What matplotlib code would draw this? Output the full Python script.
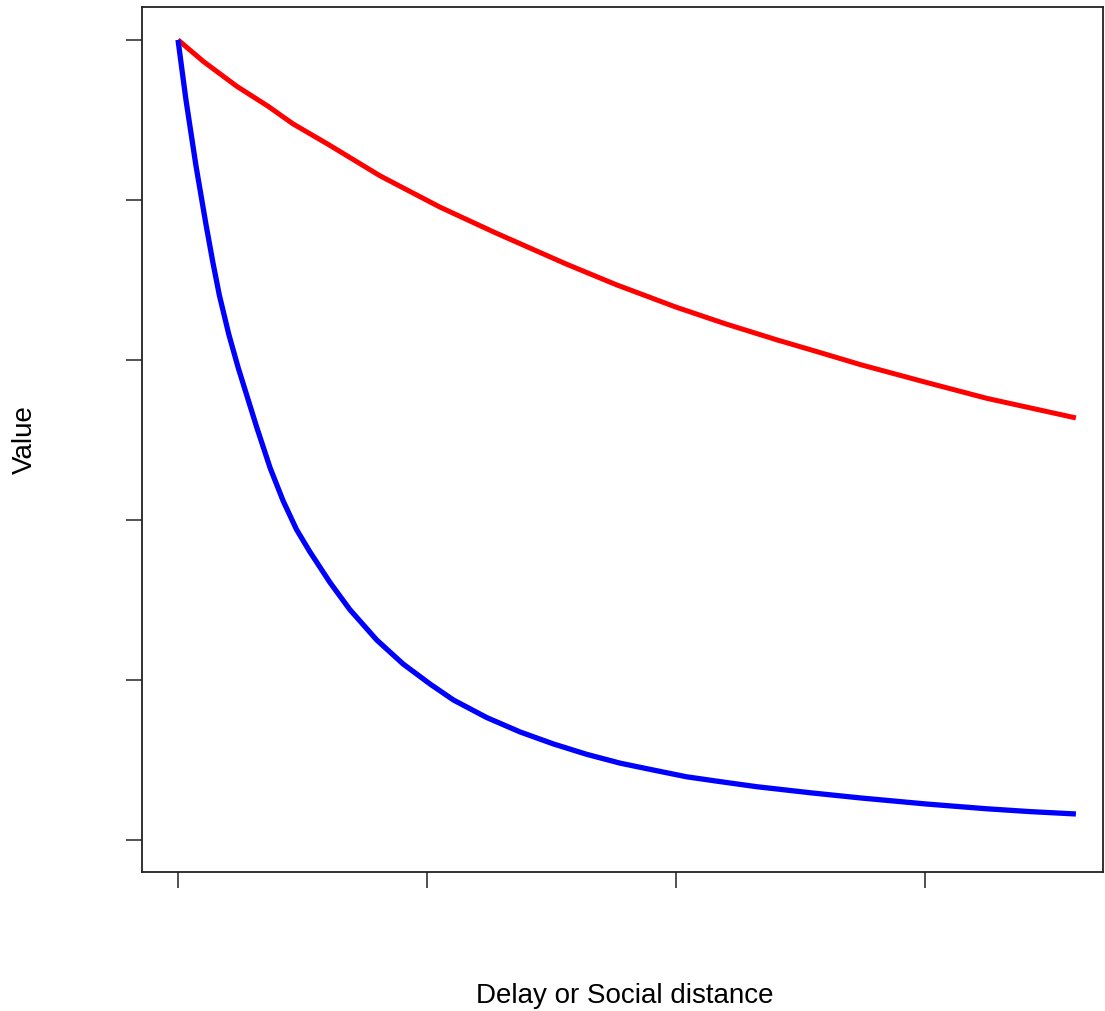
import matplotlib
matplotlib.use("Agg")
import matplotlib.pyplot as plt

# values (x = delay, y = discounted value)
red_x = [0, 5.1, 11.8, 18.1, 23.1, 30.0, 40.6, 52.6, 63.7, 77.9, 88.0, 100, 110.0,
         120.3, 128.5, 137.1, 150.2, 162.4, 180.3]
red_y = [1.0, 0.973, 0.942, 0.917, 0.895, 0.870, 0.830, 0.791, 0.759, 0.720, 0.694, 0.666, 0.645,
         0.625, 0.610, 0.594, 0.572, 0.552, 0.5275]

blue_x = [0, 1.6, 3.6, 5.6, 7.0, 8.3, 10.2, 12.1, 13.8, 15.8, 18.5, 21.1, 23.8, 26.5, 30.5, 34.5,
          39.9, 45.2, 50.6, 55.3, 62.0, 68.7, 75.4, 82.1, 88.8, 95.4, 102.1, 108.8, 116.2,
          127.0, 137.1, 150.2, 162.4, 171.0, 180.3]
blue_y = [1.0, 0.925, 0.843, 0.770, 0.722, 0.681, 0.632, 0.590, 0.556, 0.516, 0.465, 0.424, 0.388,
          0.360, 0.322, 0.288, 0.250, 0.220, 0.195, 0.175, 0.153, 0.135, 0.120, 0.107, 0.096,
          0.0875, 0.079, 0.073, 0.0666, 0.059, 0.0525, 0.045, 0.039, 0.0355, 0.0325]

x_ticks = [0, 50, 100, 150]
y_ticks = [0, 0.2, 0.4, 0.6, 0.8, 1.0]

plt.rcParams['font.family'] = ['Liberation Sans', 'DejaVu Sans']

fig = plt.figure(figsize=(11.05, 10.11), dpi=100)
ax = fig.add_axes([0.1285, 0.1375, 0.8695, 0.8555])

ax.plot(red_x, red_y, color="red", lw=3.6, solid_capstyle="butt", solid_joinstyle="round")
ax.plot(blue_x, blue_y, color="blue", lw=3.8, solid_capstyle="butt", solid_joinstyle="round")

ax.set_xlim(-7.23, 185.7)
ax.set_ylim(-0.04, 1.041)
ax.set_xticks(x_ticks)
ax.set_yticks(y_ticks)
ax.set_xticklabels([])
ax.set_yticklabels([])
ax.tick_params(direction="out", length=11.5, width=1.1, color="#222222")
for s in ax.spines.values():
    s.set_linewidth(1.3)
    s.set_color("#222222")

fig.text(0.0226, 0.565, "Value", rotation=90, ha="center", va="center", fontsize=20)
fig.text(0.565, 0.015, "Delay or Social distance", ha="center", va="center", fontsize=20)

plt.savefig("out.png", dpi=100)
